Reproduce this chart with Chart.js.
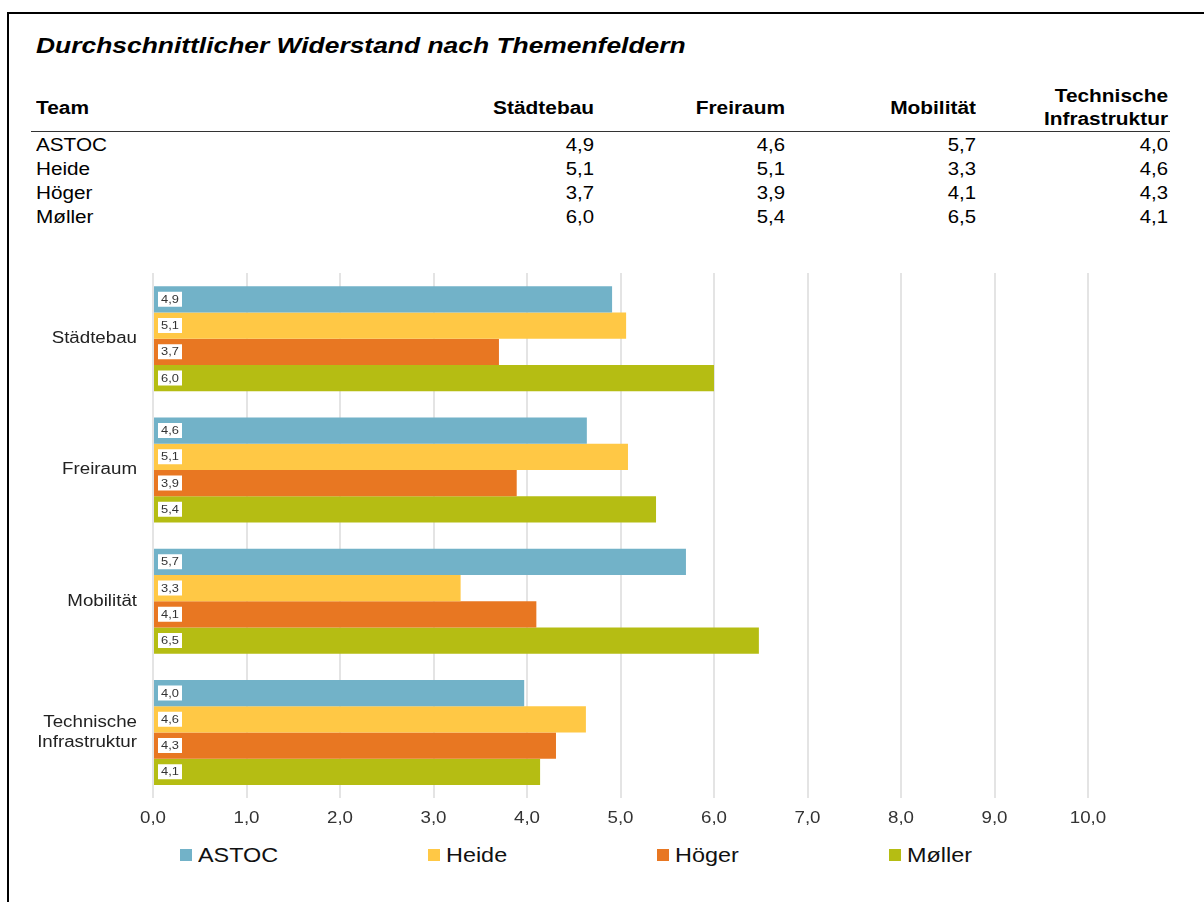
<!DOCTYPE html>
<html><head><meta charset="utf-8">
<script src="https://cdn.jsdelivr.net/npm/chart.js@4.4.0/dist/chart.umd.min.js"></script>
<style>
body{margin:0;width:1204px;height:902px;position:relative;background:#fff;font-family:"Liberation Sans",Arial,sans-serif;overflow:hidden}
#frame{position:absolute;left:7px;top:12px;width:1204px;height:900px;border-top:2px solid #000;border-left:2px solid #000}
#title{position:absolute;left:36px;top:31px;font-size:22px;line-height:30px;font-weight:bold;font-style:italic;color:#000;white-space:nowrap;transform:scaleX(1.2);transform-origin:left center}
.hd{position:absolute;font-weight:bold;font-size:18px;color:#000;line-height:23px;white-space:nowrap}
.cell{position:absolute;font-size:18px;line-height:24px;color:#000;white-space:nowrap}
#rule{position:absolute;left:31px;top:131px;width:1139px;height:0;border-top:1.5px solid #333}
#wrap{position:absolute;left:0;top:237px;width:1204px;height:603px}
#legend{position:absolute;left:180px;top:841px;display:flex;gap:150px}
.li{display:flex;align-items:center;font-size:20px;line-height:28px;color:#111}
.li .tx{display:inline-block;white-space:nowrap;transform-origin:left center}
.sw{width:12px;height:12px;margin-right:6px}
</style>
</head><body>
<div id="frame"></div>
<div id="title">Durchschnittlicher Widerstand nach Themenfeldern</div>
<div id="table"></div>
<div id="rule"></div>
<div id="wrap"><canvas id="c" width="1204" height="603"></canvas></div>
<div id="legend"></div>
<script>
const categories = ['Städtebau', 'Freiraum', 'Mobilität', 'Technische Infrastruktur'];
const teams = ['ASTOC', 'Heide', 'Höger', 'Møller'];
const astoc   = [4.91, 4.64, 5.70, 3.97];
const heide   = [5.06, 5.08, 3.29, 4.63];
const hoeger  = [3.70, 3.89, 4.10, 4.31];
const moeller = [6.00, 5.38, 6.48, 4.14];
const xTickValues = [0, 1, 2, 3, 4, 5, 6, 7, 8, 9, 10];
const colors = ['#72B2C8', '#FFC845', '#E87722', '#B5BD13'];

const series = [astoc, heide, hoeger, moeller];
const fmt = v => v.toFixed(1).replace('.', ',');
const FONT = '"Liberation Sans", Arial, sans-serif';

// table
const colRight = [594, 785, 976, 1168];
const tbl = document.getElementById('table');
function add(cls, html, styles, k, origin){
  const d = document.createElement('div'); d.className = cls; d.innerHTML = html;
  Object.assign(d.style, styles);
  d.style.transform = 'scaleX(' + k + ')'; d.style.transformOrigin = origin + ' center';
  tbl.appendChild(d);
}
add('hd', 'Team', {left:'36px', top:'97px'}, 1.16, 'left');
categories.forEach((c,j)=>{
  const parts = c.split(' ');
  const two = parts.length > 1;
  add('hd', parts.join('<br>'), {right:(1204-colRight[j])+'px', top:(two?85:97)+'px', textAlign:'right'}, 1.16, 'right');
});
teams.forEach((t,i)=>{
  const top = 133 + i*24;
  add('cell', t, {left:'36px', top: top+'px'}, 1.15, 'left');
  series[i].forEach((v,j)=>{
    add('cell', fmt(v), {right:(1204-colRight[j])+'px', top: top+'px', textAlign:'right'}, 1.13, 'right');
  });
});

// legend
const LK = 1.17;
const lg = document.getElementById('legend');
teams.forEach((t,i)=>{
  const d = document.createElement('div'); d.className = 'li';
  d.innerHTML = '<span class="sw" style="background:' + colors[i] + '"></span><span class="tx">' + t + '</span>';
  lg.appendChild(d);
  const tx = d.querySelector('.tx');
  const w = tx.getBoundingClientRect().width;
  tx.style.width = (w * LK) + 'px';
  tx.style.transform = 'scaleX(' + LK + ')';
});

// canvas text is drawn slightly stretched horizontally, like the reference
const canvas = document.getElementById('c');
const ctx2d = canvas.getContext('2d');
const STRETCH = 1.17;
const origFill = ctx2d.fillText.bind(ctx2d);
ctx2d.fillText = function(text, x, y, maxWidth){
  this.save(); this.translate(x, y); this.scale(STRETCH, 1);
  if (maxWidth === undefined || maxWidth === null) origFill(text, 0, 0);
  else origFill(text, 0, 0, maxWidth / STRETCH);
  this.restore();
};

const valueBoxes = {
  id: 'valueBoxes',
  afterDatasetsDraw(chart){
    const ctx = chart.ctx;
    ctx.save();
    ctx.font = '11px ' + FONT;
    ctx.textBaseline = 'middle';
    ctx.textAlign = 'left';
    chart.data.datasets.forEach((ds,i)=>{
      const meta = chart.getDatasetMeta(i);
      meta.data.forEach((el,j)=>{
        const x = el.base + 4, y = el.y;
        ctx.fillStyle = '#fff';
        ctx.fillRect(x, y - 7.5, 24, 15);
        ctx.fillStyle = '#333';
        ctx.fillText(fmt(ds.data[j]), x + 3, y + 0.5);
      });
    });
    ctx.restore();
  }
};

new Chart(canvas, {
  type: 'bar',
  data: {
    labels: categories,
    datasets: teams.map((t,i)=>({
      label: t, data: series[i], backgroundColor: colors[i], borderWidth: 0,
      categoryPercentage: 0.8, barPercentage: 1.0
    }))
  },
  options: {
    indexAxis: 'y',
    responsive: false,
    animation: false,
    layout: { padding: { left: 0, right: 116, top: 35, bottom: 0 } },
    plugins: { legend: { display: false }, tooltip: { enabled: false } },
    scales: {
      x: {
        min: 0, max: 10,
        afterBuildTicks(scale){ scale.ticks = xTickValues.map(v=>({value:v})); },
        afterFit(scale){ scale.height = 42; },
        grid: { color: '#e4e4e4', lineWidth: 2, drawTicks: false },
        border: { display: false },
        ticks: { padding: 11, color: '#333', font: { size: 16, family: FONT },
          callback: v => fmt(v) }
      },
      y: {
        afterFit(scale){ scale.width = 153; },
        grid: { display: false, drawTicks: false },
        border: { display: false },
        ticks: { padding: 16, color: '#222', font: { size: 16, family: FONT, lineHeight: 1.25 },
          callback(v){ const l = categories[v]; return l.includes(' ') ? l.split(' ') : l; } }
      }
    }
  },
  plugins: [valueBoxes]
});
</script>
</body></html>
